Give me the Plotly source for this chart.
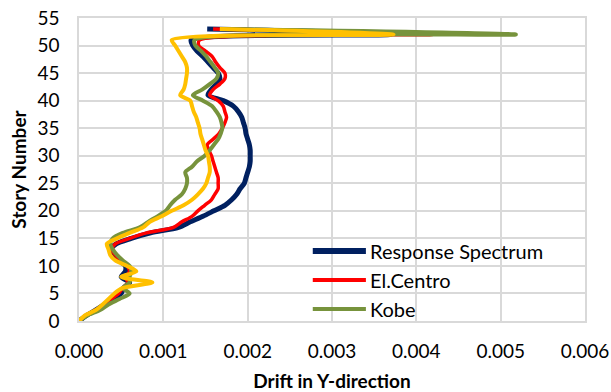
import plotly.graph_objects as go

# Story levels (ground = 0, roof = 53)
stories = list(range(0, 54))

# Inter-story drift in the Y-direction for each analysis case
response_spectrum = [
    0, 0.00009, 0.0002, 0.0003, 0.0004, 0.0005, 0.00053, 0.0006, 0.0005, 0.00055,
    0.00055, 0.00048, 0.0004, 0.00038, 0.00044, 0.00062, 0.00085, 0.00118, 0.00132, 0.00147,
    0.0016, 0.00173, 0.00181, 0.00187, 0.00191, 0.00196, 0.00198, 0.002, 0.00202, 0.00203,
    0.00203, 0.00203, 0.00202, 0.002, 0.00198, 0.00197, 0.00195, 0.00193, 0.00189, 0.00183,
    0.00171, 0.00153, 0.00157, 0.00163, 0.00167, 0.00165, 0.00159, 0.00153, 0.00147, 0.0014,
    0.00135, 0.00133, 0.0037, 0.00152,
]
el_centro = [
    0, 0.00008, 0.0002, 0.0003, 0.00038, 0.00047, 0.00052, 0.00058, 0.00055, 0.0006,
    0.00057, 0.00049, 0.00043, 0.00039, 0.00043, 0.0006, 0.0008, 0.00112, 0.00122, 0.00134,
    0.00141, 0.00149, 0.00157, 0.00161, 0.00165, 0.00165, 0.00165, 0.00163, 0.00161, 0.00159,
    0.00157, 0.00154, 0.00152, 0.00159, 0.00166, 0.0017, 0.00173, 0.00175, 0.00173, 0.00171,
    0.00165, 0.00155, 0.00159, 0.00167, 0.00173, 0.00173, 0.00167, 0.00162, 0.00158, 0.0015,
    0.00142, 0.00143, 0.0042, 0.00159,
]
kobe = [
    0, 0.0001, 0.00025, 0.00035, 0.00048, 0.0006, 0.00052, 0.0006, 0.0006, 0.00062,
    0.0006, 0.00052, 0.00045, 0.0004, 0.00037, 0.0004, 0.00052, 0.00072, 0.00082, 0.00093,
    0.00103, 0.00108, 0.00114, 0.00122, 0.00126, 0.00128, 0.00128, 0.00126, 0.00134, 0.0014,
    0.00149, 0.00155, 0.0016, 0.00165, 0.00168, 0.0017, 0.00169, 0.00167, 0.00163, 0.00158,
    0.00147, 0.00135, 0.00146, 0.00155, 0.00163, 0.00165, 0.00161, 0.00156, 0.00151, 0.00145,
    0.00138, 0.00137, 0.00518, 0.0017,
]
fourth_record = [
    0, 0.00007, 0.0002, 0.00028, 0.00035, 0.00042, 0.00052, 0.00087, 0.0005, 0.00068,
    0.00057, 0.00043, 0.00037, 0.00035, 0.00033, 0.00045, 0.0006, 0.00076, 0.00084, 0.00098,
    0.0011, 0.00124, 0.00134, 0.00141, 0.00147, 0.00151, 0.00153, 0.00155, 0.00155, 0.00154,
    0.00153, 0.0015, 0.00148, 0.00146, 0.00144, 0.00143, 0.00141, 0.00139, 0.00136, 0.00134,
    0.00132, 0.0012, 0.00124, 0.00126, 0.00127, 0.00128, 0.00128, 0.00126, 0.00122, 0.00118,
    0.00114, 0.0011, 0.00373, 0.00167,
]

x_ticks = [0, 0.001, 0.002, 0.003, 0.004, 0.005, 0.006]
y_ticks = list(range(0, 56, 5))

series = [
    ("Response Spectrum", response_spectrum, "#002060", 5.0, True),
    ("El.Centro", el_centro, "#FF0000", 3.5, True),
    ("Kobe", kobe, "#77933C", 4.0, True),
    ("", fourth_record, "#FFC000", 4.0, False),
]

FONT = "Lato"
GRID = "#D9D9D9"

fig = go.Figure()
for name, values, color, width, _ in series:
    fig.add_trace(go.Scatter(
        x=values, y=stories, mode="lines", name=name,
        line=dict(color=color, width=width, shape="spline", smoothing=0.8),
        showlegend=False,
    ))

# Legend drawn inside the plot area, without a background box
legend_rows = [s for s in series if s[4]]
legend_y = [0.231, 0.135, 0.040]
for (name, _, color, width, _), ly in zip(legend_rows, legend_y):
    fig.add_shape(type="line", xref="paper", yref="paper",
                  x0=0.462, x1=0.567, y0=ly, y1=ly,
                  line=dict(color=color, width=6 if width > 4.5 else 4))
    fig.add_annotation(xref="paper", yref="paper", x=0.572, y=ly,
                       text=name, showarrow=False, xanchor="left", yanchor="middle",
                       font=dict(family=FONT, size=20, color="#000000"))

fig.update_layout(
    width=611, height=392,
    margin=dict(l=79, r=26, t=18, b=71),
    paper_bgcolor="white", plot_bgcolor="white",
    font=dict(family=FONT, size=19, color="#000000"),
)
fig.update_xaxes(
    range=[0, 0.006], tickvals=x_ticks, tickformat=".3f",
    tickfont=dict(family=FONT, size=19),
    showgrid=True, gridcolor=GRID, gridwidth=1.5,
    showline=True, linecolor=GRID, linewidth=1.5, mirror=True,
    zeroline=False, ticks="", ticklabelstandoff=12,
    title=dict(text="<b>Drift in Y-direction</b>", font=dict(family=FONT, size=19), standoff=14),
    automargin=False,
)
fig.update_yaxes(
    range=[0, 55], tickvals=y_ticks,
    tickfont=dict(family=FONT, size=19),
    showgrid=True, gridcolor=GRID, gridwidth=1.5,
    showline=True, linecolor=GRID, linewidth=1.5, mirror=True,
    zeroline=False, ticks="", ticklabelstandoff=14,
    title=dict(text="<b>Story Number</b>", font=dict(family=FONT, size=19), standoff=6),
    automargin=False,
)

fig.write_html("out.html")
